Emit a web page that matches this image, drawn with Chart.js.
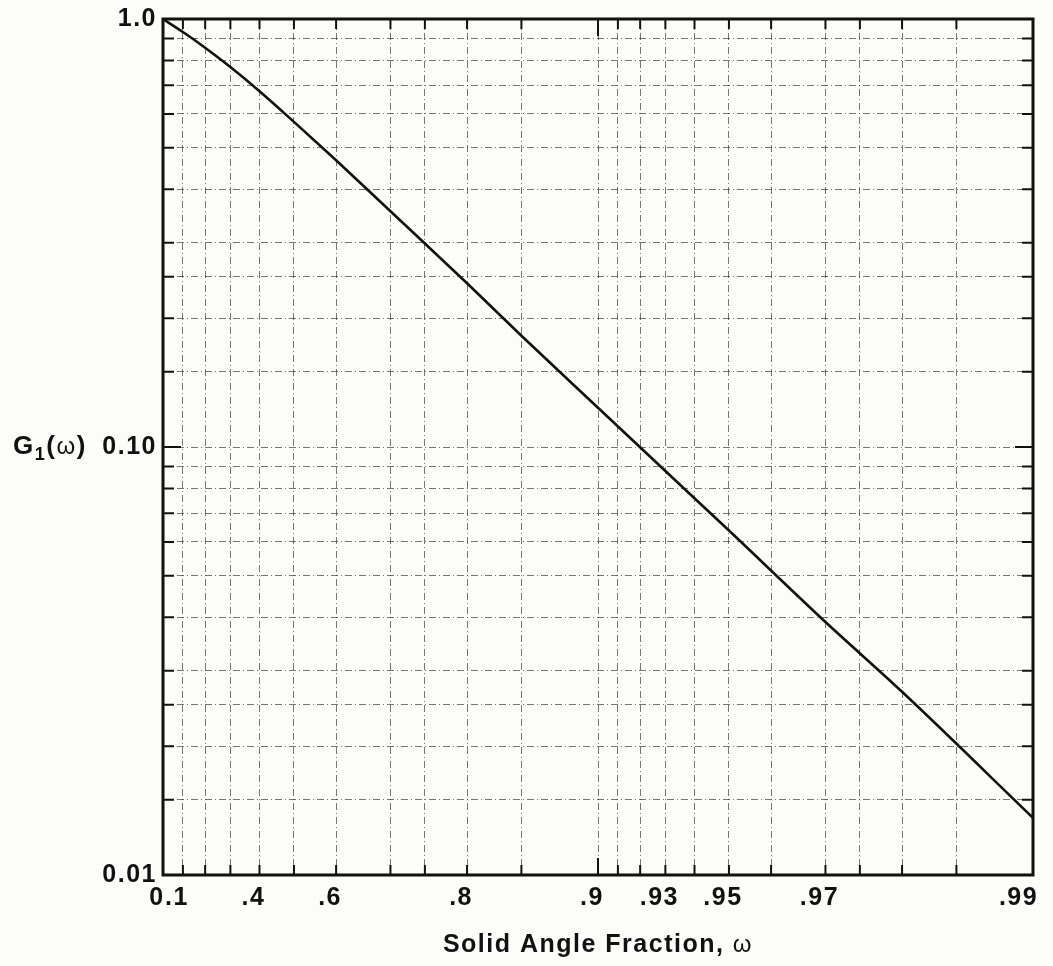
<!DOCTYPE html>
<html><head><meta charset="utf-8">
<script src="https://cdn.jsdelivr.net/npm/chart.js@4.4.0/dist/chart.umd.min.js"></script>
<style>
html,body{margin:0;padding:0;background:#fcfcfa;}
#wrap{width:1053px;height:966px;}
</style></head><body>
<div id="wrap"><canvas id="c" width="1053" height="966"></canvas></div>
<script>
// Solid angle fraction ω and G1(ω)
const omega = [0, 0.1, 0.2, 0.3, 0.4, 0.5, 0.6, 0.7, 0.8, 0.85, 0.9, 0.93, 0.95, 0.97, 0.98, 0.99];
const g1 = [1.0, 0.9325, 0.857, 0.772, 0.678, 0.575, 0.4676, 0.3556, 0.2413, 0.182, 0.1235, 0.0879, 0.0638, 0.039, 0.0268, 0.0136];

// x ticks (in ω) and their labels
const xTickOmega = [0, 0.1, 0.2, 0.3, 0.4, 0.5, 0.6, 0.7, 0.75, 0.8, 0.85, 0.9, 0.91, 0.92, 0.93, 0.94, 0.95, 0.96, 0.97, 0.975, 0.98, 0.985, 0.99];
const xTickLabels = ['0', '.1', '', '', '.4', '', '.6', '', '', '.8', '', '.9', '', '', '.93', '', '.95', '', '.97', '', '', '', '.99  '];

// y ticks and labels
const yTickValues = [1, 0.9, 0.8, 0.7, 0.6, 0.5, 0.4, 0.3, 0.25, 0.2, 0.15, 0.1, 0.09, 0.08, 0.07, 0.06, 0.05, 0.04, 0.03, 0.025, 0.02, 0.015, 0.01];
const yTickLabels = ['1.0', '', '', '', '', '', '', '', '', '', '', '0.10', '', '', '', '', '', '', '', '', '', '', '0.01'];

const xTitleMain = 'Solid Angle Fraction, ';
const xTitleSym = 'ω';

const FONT = "'Liberation Sans', Arial, Helvetica, sans-serif";
const BG = '#fcfcfa';
const GRID = 'rgba(30,30,30,0.6)';
const DASH = [7, 3, 1, 3];

function isDecade(v) {
  const l = Math.log10(v);
  return Math.abs(l - Math.round(l)) < 1e-6;
}

const deco = {
  id: 'deco',
  beforeUpdate(chart) { chart.ctx.letterSpacing = '1.5px'; },
  beforeDraw(chart) {
    const c = chart.ctx;
    c.save();
    c.fillStyle = BG;
    c.fillRect(0, 0, chart.width, chart.height);
    c.restore();
    c.letterSpacing = '1.5px';
  },
  afterDraw(chart) {
    const {ctx, chartArea: a, scales: {x, y}} = chart;
    ctx.save();
    ctx.strokeStyle = '#111';
    ctx.lineWidth = 2;
    ctx.setLineDash([]);
    ctx.beginPath();
    x.ticks.forEach(t => {
      const px = x.getPixelForValue(t.value);
      const L = isDecade(t.value) ? 17 : 10;
      ctx.moveTo(px, a.top); ctx.lineTo(px, a.top + L);
      ctx.moveTo(px, a.bottom); ctx.lineTo(px, a.bottom - L);
    });
    y.ticks.forEach(t => {
      const py = y.getPixelForValue(t.value);
      const L = isDecade(t.value) ? 18 : 11;
      ctx.moveTo(a.left, py); ctx.lineTo(a.left + L, py);
      ctx.moveTo(a.right, py); ctx.lineTo(a.right - L, py);
    });
    ctx.stroke();
    ctx.lineWidth = 3;
    ctx.strokeRect(a.left, a.top, a.right - a.left, a.bottom - a.top);

    // y title G1(ω)
    ctx.fillStyle = '#111';
    ctx.textBaseline = 'middle';
    ctx.textAlign = 'left';
    ctx.letterSpacing = '1.5px';
    const yc = y.getPixelForValue(0.1);
    let xx = 13;
    const parts = [
      ['G', 'bold 26px ' + FONT, 0],
      ['1', 'bold 18px ' + FONT, 8],
      ['(', 'bold 26px ' + FONT, 0],
      ['ω', '24px ' + FONT, 0],
      [')', 'bold 26px ' + FONT, 0]
    ];
    parts.forEach(([s, f, dy]) => {
      ctx.font = f;
      ctx.fillText(s, xx, yc + dy);
      xx += ctx.measureText(s).width;
    });

    // x title
    ctx.font = 'bold 25px ' + FONT;
    const w1 = ctx.measureText(xTitleMain).width;
    ctx.font = '24px ' + FONT;
    const w2 = ctx.measureText(xTitleSym).width;
    let sx = (a.left + a.right) / 2 - (w1 + w2) / 2;
    ctx.font = 'bold 25px ' + FONT;
    ctx.fillText(xTitleMain, sx, 945);
    ctx.font = '24px ' + FONT;
    ctx.fillText(xTitleSym, sx + w1, 945);
    ctx.restore();
  }
};

new Chart(document.getElementById('c'), {
  type: 'line',
  data: {
    datasets: [{
      data: omega.map((w, i) => ({x: 1 - w, y: g1[i]})),
      borderColor: '#111',
      borderWidth: 2.6,
      pointRadius: 0,
      fill: false,
      cubicInterpolationMode: 'monotone'
    }]
  },
  options: {
    responsive: false,
    devicePixelRatio: 1,
    animation: false,
    layout: {padding: {top: 19, right: 20, bottom: 0, left: 0}},
    plugins: {legend: {display: false}, tooltip: {enabled: false}},
    scales: {
      x: {
        type: 'logarithmic',
        reverse: true,
        min: 0.01,
        max: 1,
        afterBuildTicks: s => { s.ticks = xTickOmega.map(w => ({value: 1 - w})); },
        afterFit: s => { s.height = 91; s.paddingLeft = 0; s.paddingRight = 0; },
        ticks: {
          autoSkip: false, maxRotation: 0, minRotation: 0,
          callback: (v, i) => xTickLabels[i],
          font: {family: FONT, size: 25, weight: 'bold'},
          color: '#111',
          padding: 8,
          labelOffset: -6
        },
        grid: {color: GRID, lineWidth: 1, drawTicks: false},
        border: {display: false, dash: DASH}
      },
      y: {
        type: 'logarithmic',
        min: 0.01,
        max: 1,
        afterBuildTicks: s => { s.ticks = yTickValues.map(v => ({value: v})); },
        afterFit: s => { s.width = 163; s.paddingTop = 0; s.paddingBottom = 0; },
        ticks: {
          autoSkip: false,
          callback: (v, i) => yTickLabels[i],
          font: {family: FONT, size: 25, weight: 'bold'},
          color: '#111',
          padding: 6
        },
        grid: {color: GRID, lineWidth: 1, drawTicks: false},
        border: {display: false, dash: DASH}
      }
    }
  },
  plugins: [deco]
});
</script>
</body></html>
